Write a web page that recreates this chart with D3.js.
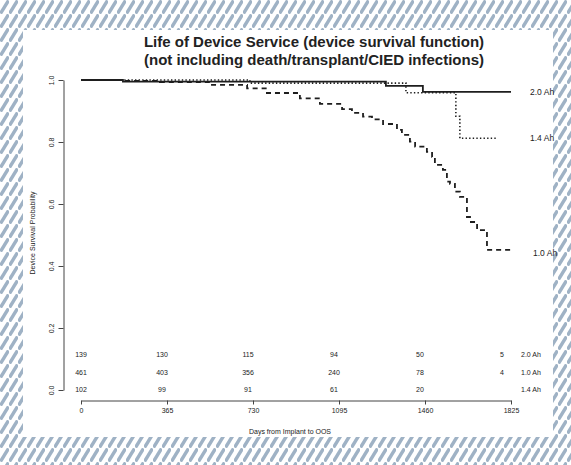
<!DOCTYPE html>
<meta charset="utf-8">
<script src="https://d3js.org/d3.v7.min.js"></script>
<style>
  body { margin: 0; background: #fff; }
  text { font-family: "Liberation Sans", Arial, sans-serif; fill: #222; }
</style>
<div id="chart"></div>
<script>

// survival curves (day, probability)
const days20 = [0, 178, 1294, 1451, 1825]
const surv20 = [1.0, 0.995, 0.981, 0.962, 0.962]

const days14 = [0, 717, 1379, 1591, 1608, 1765]
const surv14 = [1.0, 0.99, 0.959, 0.883, 0.812, 0.812]

const days10 = [0, 187, 335, 547, 705, 789, 929, 1014, 1108, 1150, 1197, 1235, 1282, 1341,
  1362, 1396, 1418, 1468, 1490, 1502, 1536, 1553, 1566, 1587, 1608, 1638, 1651, 1681, 1723, 1825]
const surv10 = [1.0, 0.997, 0.993, 0.984, 0.973, 0.958, 0.941, 0.923, 0.906, 0.894, 0.882, 0.873,
  0.858, 0.839, 0.823, 0.801, 0.785, 0.768, 0.752, 0.726, 0.710, 0.672, 0.665, 0.640, 0.623,
  0.558, 0.542, 0.516, 0.452, 0.452]

const groupNames = ["2.0 Ah", "1.0 Ah", "1.4 Ah"]
const xTicks = [0, 365, 730, 1095, 1460, 1825]
const yTicks = [0.0, 0.2, 0.4, 0.6, 0.8, 1.0]

// number at risk table, one row per group
const risk20 = [139, 130, 115, 94, 50, 5]
const risk10 = [461, 403, 356, 240, 78, 4]
const risk14 = [102, 99, 91, 61, 20, null]

const W = 571, H = 465

const svg = d3.select("#chart").append("svg")
  .attr("width", W).attr("height", H)

// hatched frame
const pat = svg.append("defs").append("pattern")
  .attr("id", "hatch")
  .attr("patternUnits", "userSpaceOnUse")
  .attr("width", 9).attr("height", 14)
pat.append("line")
  .attr("x1", 0.5).attr("y1", 13.5).attr("x2", 8.5).attr("y2", 0.5)
  .attr("stroke", "#9fb2c5").attr("stroke-width", 3.4)

svg.append("rect").attr("width", W).attr("height", H).attr("fill", "url(#hatch)")
svg.append("rect")
  .attr("x", 23).attr("y", 30).attr("width", 530).attr("height", 407)
  .attr("fill", "#fff")

const x = d3.scaleLinear().domain([0, 1825]).range([81, 511])
const y = d3.scaleLinear().domain([0, 1]).range([390, 80])

// title
svg.append("text")
  .attr("x", 314).attr("y", 47)
  .attr("text-anchor", "middle")
  .style("font-size", "15px").style("font-weight", "bold")
  .text("Life of Device Service (device survival function)")
svg.append("text")
  .attr("x", 314).attr("y", 65)
  .attr("text-anchor", "middle")
  .style("font-size", "15px").style("font-weight", "bold")
  .text("(not including death/transplant/CIED infections)")

// axes
const xAxis = svg.append("g")
  .attr("transform", "translate(0,400.5)")
  .call(d3.axisBottom(x).tickValues(xTicks).tickSize(4).tickSizeOuter(0).tickPadding(4)
    .tickFormat(d3.format("d")))
const yAxis = svg.append("g")
  .attr("transform", "translate(63.5,0)")
  .call(d3.axisLeft(y).tickValues(yTicks).tickSize(5).tickSizeOuter(0).tickFormat(d3.format(".1f")))

for (const ax of [xAxis, yAxis]) {
  ax.select(".domain").attr("stroke", "#444")
  ax.selectAll(".tick line").attr("stroke", "#444")
  ax.selectAll("text").style("font-size", "7px").attr("fill", "#333")
}
yAxis.selectAll(".tick text")
  .attr("transform", "rotate(-90)")
  .attr("x", 0).attr("y", -10)
  .attr("dy", "0")
  .attr("text-anchor", "middle")

svg.append("text")
  .attr("x", 290).attr("y", 434)
  .attr("text-anchor", "middle")
  .style("font-size", "7px")
  .text("Days from Implant to OOS")
svg.append("text")
  .attr("transform", "translate(35,233) rotate(-90)")
  .attr("text-anchor", "middle")
  .style("font-size", "7px")
  .text("Device Survival Probability")

// curves
const line = d3.line()
  .x(d => x(d[0]))
  .y(d => y(d[1]))
  .curve(d3.curveStepAfter)

const curves = [
  {days: days10, surv: surv10, dash: "5,4", width: 1.8},
  {days: days14, surv: surv14, dash: "1.4,2.2", width: 1.6},
  {days: days20, surv: surv20, dash: null, width: 1.8}
]

curves.forEach(c => {
  svg.append("path")
    .datum(c.days.map((d, i) => [d, c.surv[i]]))
    .attr("fill", "none")
    .attr("stroke", "#1e1e1e")
    .attr("stroke-width", c.width)
    .attr("stroke-dasharray", c.dash)
    .attr("d", line)
})

// curve end labels
const endLabels = [
  {name: "2.0 Ah", s: surv20[surv20.length - 1], dx: 19},
  {name: "1.4 Ah", s: surv14[surv14.length - 1], dx: 19},
  {name: "1.0 Ah", s: surv10[surv10.length - 1], dx: 22}
]
svg.selectAll(".endlab").data(endLabels).join("text")
  .attr("class", "endlab")
  .attr("x", d => x(1825) + d.dx)
  .attr("y", (d, i) => y(d.s) + (i == 2 ? 6 : 3))
  .style("font-size", "8.5px")
  .text(d => d.name)

// number at risk
const riskRows = [risk20, risk10, risk14]
riskRows.forEach((row, r) => {
  const yy = 357 + r * 17.5
  row.forEach((v, i) => {
    if (v === null) return
    svg.append("text")
      .attr("x", x(xTicks[i]) - (i == 0 ? 0 : i == 5 ? 9 : 5))
      .attr("y", yy)
      .attr("text-anchor", "middle")
      .style("font-size", "7px")
      .text(v)
  })
  svg.append("text")
    .attr("x", 521).attr("y", yy)
    .style("font-size", "7px")
    .text(groupNames[r])
})

</script>
